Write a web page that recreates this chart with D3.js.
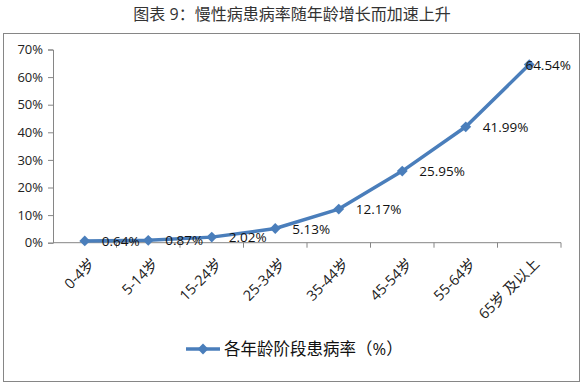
<!DOCTYPE html>
<html>
<head>
<meta charset="utf-8">
<script src="https://cdn.jsdelivr.net/npm/d3@7"></script>
<style>
  body { margin: 0; background: #fff; }
  svg text { font-family: "Open Sans", "Noto Sans CJK SC", sans-serif; }
</style>
</head>
<body>
<div id="chart"></div>
<script>
var title = '图表 9：慢性病患病率随年龄增长而加速上升'
var seriesName = '各年龄阶段患病率（%）'
var categories = ['0-4岁', '5-14岁', '15-24岁', '25-34岁', '35-44岁', '45-54岁', '55-64岁', '65岁 及以上']
var values = [0.64, 0.87, 2.02, 5.13, 12.17, 25.95, 41.99, 64.54]
var yTicks = [0, 10, 20, 30, 40, 50, 60, 70]

var W = 584
var H = 384
var frame = { left: 3, top: 33, right: 579, bottom: 381 }
var plot = { left: 53, right: 561, top: 49.5, bottom: 242.7 }
var blue = '#4a7ebb'
var axisColor = '#868686'

var svg = d3.select('#chart').append('svg')
  .attr('width', W)
  .attr('height', H)

svg.append('text')
  .attr('x', W / 2)
  .attr('y', 20)
  .attr('text-anchor', 'middle')
  .attr('font-size', 16)
  .attr('fill', '#333')
  .text(title)

svg.append('rect')
  .attr('x', frame.left + 0.5)
  .attr('y', frame.top + 0.5)
  .attr('width', frame.right - frame.left)
  .attr('height', frame.bottom - frame.top)
  .attr('fill', '#fff')
  .attr('stroke', axisColor)
  .attr('stroke-width', 1)

var x = d3.scaleBand()
  .domain(categories)
  .range([plot.left, plot.right])

var y = d3.scaleLinear()
  .domain([0, 70])
  .range([plot.bottom, plot.top])

// y axis
var yAxis = svg.append('g')
  .attr('transform', 'translate(' + plot.left + ',0)')
  .call(d3.axisLeft(y).tickValues(yTicks).tickSize(5).tickPadding(5)
    .tickFormat(function (d) { return d + '%' }))
yAxis.select('.domain').attr('stroke', axisColor)
yAxis.selectAll('.tick line').attr('stroke', axisColor)
yAxis.selectAll('.tick text')
  .attr('font-size', 13)
  .attr('fill', '#222')

// x axis: ticks sit between categories
var xAxis = svg.append('g')
  .attr('transform', 'translate(0,' + plot.bottom + ')')
xAxis.append('line')
  .attr('x1', plot.left)
  .attr('x2', plot.right)
  .attr('stroke', axisColor)
var bounds = categories.map(function (c) { return x(c) + x.bandwidth() })
xAxis.selectAll('.xtick')
  .data(bounds)
  .enter().append('line')
  .attr('class', 'xtick')
  .attr('x1', function (d) { return d })
  .attr('x2', function (d) { return d })
  .attr('y1', 0)
  .attr('y2', 5)
  .attr('stroke', axisColor)
xAxis.selectAll('.xlabel')
  .data(categories)
  .enter().append('text')
  .attr('class', 'xlabel')
  .attr('text-anchor', 'end')
  .attr('font-size', 14.5)
  .attr('fill', '#222')
  .attr('transform', function (d) {
    var cx = x(d) + x.bandwidth() / 2 + 11
    return 'translate(' + cx + ',22) rotate(-45)'
  })
  .text(function (d) { return d })

// line + markers
var cx = function (d, i) { return x(categories[i]) + x.bandwidth() / 2 }
var line = d3.line()
  .x(cx)
  .y(function (d) { return y(d) })

svg.append('path')
  .datum(values)
  .attr('d', line)
  .attr('fill', 'none')
  .attr('stroke', blue)
  .attr('stroke-width', 3.5)
  .attr('stroke-linejoin', 'round')

var diamond = d3.symbol().type(d3.symbolDiamond2).size(75)
svg.selectAll('.marker')
  .data(values)
  .enter().append('path')
  .attr('class', 'marker')
  .attr('d', diamond)
  .attr('transform', function (d, i) { return 'translate(' + cx(d, i) + ',' + y(d) + ')' })
  .attr('fill', blue)

// data labels to the right of each point, kept inside the frame
svg.selectAll('.dlabel')
  .data(values)
  .enter().append('text')
  .attr('class', 'dlabel')
  .attr('font-size', 13.5)
  .attr('fill', '#111')
  .attr('y', function (d) { return y(d) })
  .attr('dy', '0.38em')
  .text(function (d) { return d.toFixed(2) + '%' })
  .attr('x', function (d, i) {
    var w = this.getComputedTextLength()
    return Math.min(cx(d, i) + 17, frame.right - 8 - w)
  })

// legend
var legend = svg.append('g')
  .attr('transform', 'translate(' + 186 + ',349)')
legend.append('line')
  .attr('x1', 0)
  .attr('x2', 34)
  .attr('stroke', blue)
  .attr('stroke-width', 3.5)
legend.append('path')
  .attr('d', diamond)
  .attr('transform', 'translate(17,0)')
  .attr('fill', blue)
legend.append('text')
  .attr('x', 38)
  .attr('dy', '0.36em')
  .attr('font-size', 16.5)
  .attr('fill', '#111')
  .text(seriesName)
</script>
</body>
</html>
